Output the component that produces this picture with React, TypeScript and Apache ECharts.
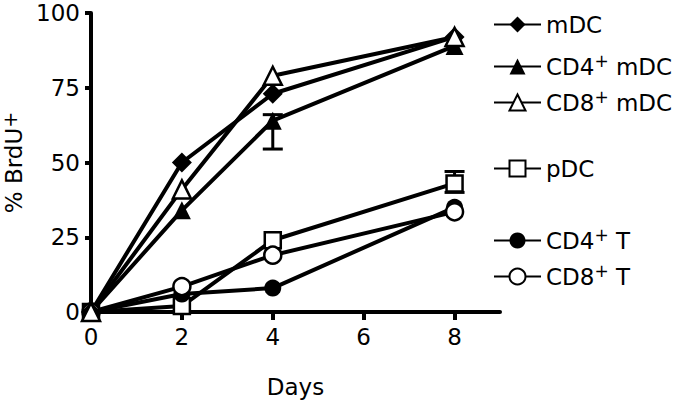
import React, { useEffect, useRef } from "react";
import * as echarts from "echarts";

const days = [0, 2, 4, 8];
const xTicks = [0, 2, 4, 6, 8];
const mDC = [0, 50, 73, 92];
const cd4mDC = [0, 34, 64, 89];
const cd8mDC = [0, 41, 79, 92];
const pDC = [0, 2, 24, 43];
const cd4T = [0, 6, 8, 35];
const cd8T = [0, 8.5, 19, 33.5];

// error bars: [day, low, high]
const errorBars = [
  [4, 54.5, 66],
  [8, 40, 47],
];

const FONT = "DejaVu Sans";
const FS = 23;

const legendNames = ["mDC", "CD4+ mDC", "CD8+ mDC", "pDC", "CD4+ T", "CD8+ T"];
const legendTops = [23, 62, 98, 167, 236, 272];

export default function App() {
  const ref = useRef<HTMLDivElement>(null);
  useEffect(() => {
    if (!ref.current) return;
    const chart = echarts.init(ref.current, null, { renderer: "svg" });
    const mk = (name: string, vals: number[], symbol: string, size: number, fill: string) => ({
      name,
      type: "line",
      data: days.map((d, i) => [d, vals[i]]),
      symbol,
      symbolSize: size,
      showAllSymbol: true,
      clip: false,
      z: 3,
      lineStyle: { color: "#000", width: 4 },
      itemStyle: { color: fill, borderColor: "#000", borderWidth: fill === "#fff" ? 2.5 : 0, opacity: 1 },
      emphasis: { disabled: true },
    });
    const series: any[] = [
      mk("pDC", pDC, "rect", 16, "#fff"),
      mk("CD4+ T", cd4T, "circle", 17, "#000"),
      mk("CD8+ T", cd8T, "circle", 17, "#fff"),
      mk("CD4+ mDC", cd4mDC, "triangle", 18, "#000"),
      mk("mDC", mDC, "diamond", 20, "#000"),
      mk("CD8+ mDC", cd8mDC, "triangle", 18, "#fff"),
      {
        type: "custom",
        data: errorBars,
        z: 2,
        clip: false,
        renderItem: (params: any, api: any) => {
          const x = api.value(0);
          const lo = api.coord([x, api.value(1)]);
          const hi = api.coord([x, api.value(2)]);
          const w = 10;
          const st = { stroke: "#000", lineWidth: 3 };
          return {
            type: "group",
            children: [
              { type: "line", shape: { x1: lo[0], y1: lo[1], x2: hi[0], y2: hi[1] }, style: st },
              { type: "line", shape: { x1: lo[0] - w, y1: lo[1], x2: lo[0] + w, y2: lo[1] }, style: st },
              { type: "line", shape: { x1: hi[0] - w, y1: hi[1], x2: hi[0] + w, y2: hi[1] }, style: st },
            ],
          };
        },
      },
    ];
    const legends = legendNames.map((n, i) => ({
      data: [n],
      left: 493,
      top: legendTops[i] - 10,
      padding: 0,
      itemWidth: 47,
      itemHeight: 20,
      selectedMode: false,
      formatter: (name: string) => name.replace("+", "{sup|+}"),
      textStyle: {
        fontFamily: FONT,
        fontSize: FS,
        color: "#000",
        rich: {
          sup: { fontFamily: FONT, fontSize: 17, color: "#000", padding: [0, 0, 12, 0] },
        },
      },
    }));
    chart.setOption({
      animation: false,
      grid: { left: 91, right: 184, top: 13, bottom: 94, containLabel: false, outerBoundsMode: "none" },
      legend: legends,
      xAxis: {
        type: "value",
        min: 0,
        max: 9,
        interval: 2,
        name: "Days",
        nameLocation: "middle",
        nameGap: 63,
        nameTextStyle: { fontFamily: FONT, fontSize: FS, color: "#000" },
        axisLine: { onZero: false, lineStyle: { color: "#000", width: 4 } },
        axisTick: { length: 8, lineStyle: { color: "#000", width: 4 }, customValues: xTicks },
        axisLabel: { customValues: xTicks, fontFamily: FONT, fontSize: FS, color: "#000", margin: 13 },
        splitLine: { show: false },
      },
      yAxis: {
        type: "value",
        min: 0,
        max: 100,
        interval: 25,
        name: "% BrdU{sup|+}",
        nameLocation: "middle",
        nameGap: 63,
        nameRotate: 90,
        nameTextStyle: {
          fontFamily: FONT,
          fontSize: FS,
          color: "#000",
          rich: { sup: { fontFamily: FONT, fontSize: 19, color: "#000", padding: [0, 0, 8, 0] } },
        },
        axisLine: { lineStyle: { color: "#000", width: 4 } },
        axisTick: { length: 6, lineStyle: { color: "#000", width: 4 } },
        axisLabel: { fontFamily: FONT, fontSize: FS, color: "#000", margin: 11 },
        splitLine: { show: false },
      },
      series,
    });
    return () => chart.dispose();
  }, []);
  return <div ref={ref} style={{ width: 684, height: 406, position: "absolute", left: 0, top: 0, background: "#fff" }} />;
}
